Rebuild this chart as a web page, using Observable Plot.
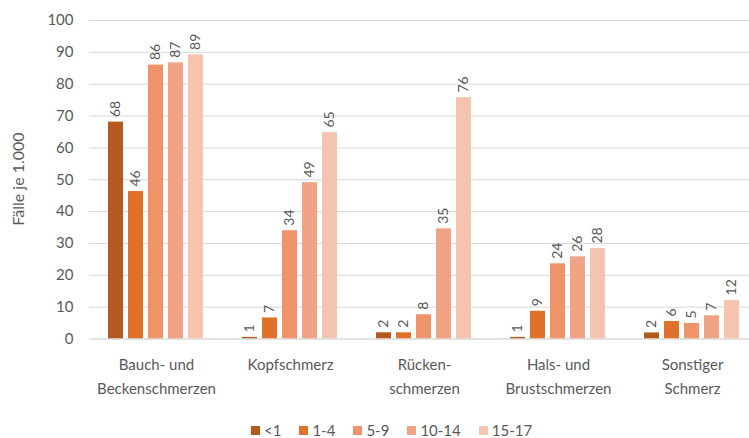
<!DOCTYPE html>
<html>
<head>
<meta charset="utf-8">
<script src="https://cdn.jsdelivr.net/npm/d3@7"></script>
<script src="https://cdn.jsdelivr.net/npm/@observablehq/plot@0.6"></script>
<style>
  html, body { margin: 0; padding: 0; background: #fff; overflow: hidden; }
  body { width: 749px; height: 438px; position: relative; font-family: Lato, "Open Sans", sans-serif; }
  #legend { position: absolute; left: 251px; top: 422px; height: 16px; line-height: 16px; display: flex; align-items: center; font-size: 15px; color: #595959; }
  .item { display: flex; align-items: center; margin-right: 18px; }
  .sw { width: 9px; height: 9px; margin-right: 4px; }
  #ylabel { position: absolute; left: 17px; top: 179px; transform: translate(-50%, -50%) rotate(-90deg); white-space: nowrap; font-size: 16px; color: #595959; }
</style>
</head>
<body>
<div id="chart"></div>
<div id="ylabel"></div>
<div id="legend"></div>
<script>
const categories = ["Bauch- und\nBeckenschmerzen", "Kopfschmerz", "Rücken-\nschmerzen", "Hals- und\nBrustschmerzen", "Sonstiger\nSchmerz"];
const ageGroups = ["<1", "1-4", "5-9", "10-14", "15-17"];
const colors = ["#B55A1F", "#DF712A", "#EE9468", "#F1A485", "#F5C4B1"];
const values = [
  [68.1, 46.3, 86.0, 86.7, 89.2],   // Bauch- und Beckenschmerzen
  [0.5, 6.6, 34.0, 49.1, 64.8],     // Kopfschmerz
  [1.95, 1.95, 7.6, 34.6, 75.8],    // Rückenschmerzen
  [0.5, 8.7, 23.6, 25.8, 28.4],     // Hals- und Brustschmerzen
  [1.9, 5.5, 4.9, 7.3, 12.1]        // Sonstiger Schmerz
];
const yTicks = [0, 10, 20, 30, 40, 50, 60, 70, 80, 90, 100];
const yLabel = "Fälle je 1.000";

const data = [];
categories.forEach((c, i) => ageGroups.forEach((a, j) => data.push({cat: c, age: a, value: values[i][j]})));

const font = "Lato, 'Open Sans', sans-serif";
const chart = Plot.plot({
  width: 749,
  height: 418,
  marginTop: 20,
  marginBottom: 79.5,
  marginLeft: 87,
  marginRight: -11,
  style: {fontFamily: font, color: "#595959", background: "#fff", overflow: "visible"},
  fx: {domain: categories, padding: 0, axis: null},
  x: {domain: ageGroups, paddingInner: 0.227, paddingOuter: 0.865, axis: null},
  y: {domain: [0, 100], axis: null},
  color: {domain: ageGroups, range: colors},
  marks: [
    Plot.gridY(yTicks, {stroke: "#D9D9D9", strokeOpacity: 1, strokeWidth: 1}),
    Plot.axisY(yTicks, {tickSize: 0, tickPadding: 16, fontSize: 15, fill: "#595959", label: null}),
    Plot.barY(data, {fx: "cat", x: "age", y: "value", fill: "age"}),
    Plot.ruleY([0], {stroke: "#D9D9D9", strokeWidth: 1.2}),
    Plot.text(data, {fx: "cat", x: "age", y: "value", text: d => String(Math.round(d.value)),
      rotate: -90, textAnchor: "start", dy: -5, fontSize: 14, fill: "#595959"}),
    Plot.axisFx({anchor: "bottom", tickSize: 0, tickPadding: 14, fontSize: 15, fill: "#595959", lineHeight: 1.6, label: null})
  ]
});
document.getElementById("chart").appendChild(chart);
document.getElementById("ylabel").textContent = yLabel;

const legend = d3.select("#legend");
ageGroups.forEach((a, i) => {
  const it = legend.append("div").attr("class", "item");
  it.append("div").attr("class", "sw").style("background", colors[i]);
  it.append("span").text(a);
});
</script>
</body>
</html>
